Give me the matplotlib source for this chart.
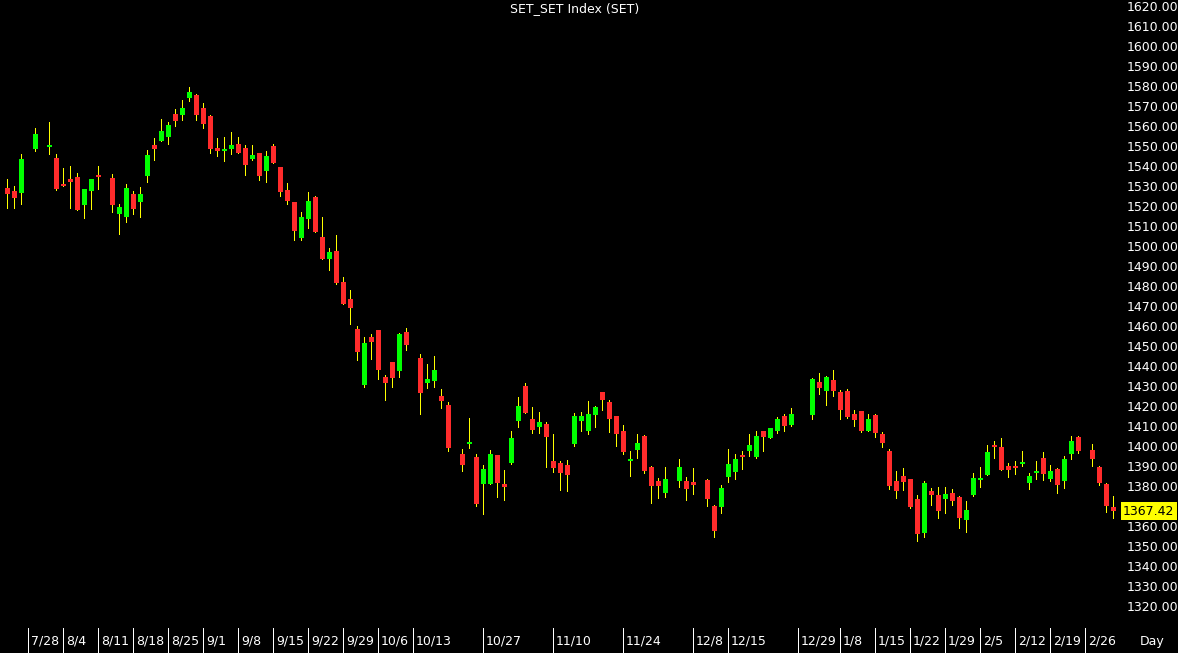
import matplotlib
matplotlib.use('Agg')
import matplotlib.pyplot as plt
import matplotlib.transforms as mtransforms
import numpy as np

# ---- data (one entry per day slot; None = empty slot) ----
opens = [1529.2, 1527.5, 1526.7, None, 1548.5, None, 1549.7, 1543.8, 1531.0, 1533.3,
         1534.5, 1520.5, 1527.5, 1535.7, None, 1534.2, 1516.2, 1514.7, 1525.8, 1522.0,
         1535.0, 1550.3, 1552.7, 1554.3, 1566.0, 1565.7, 1574.2, 1575.5, 1569.2, 1564.8,
         1548.8, 1547.5, 1548.5, 1551.2, 1549.0, 1543.7, 1546.5, 1537.5, 1550.2, 1539.5,
         1527.8, 1521.8, 1504.0, 1513.7, 1524.5, 1504.7, 1493.7, 1497.7, 1482.0, 1473.5,
         1458.5, 1430.3, 1454.5, 1458.0, 1434.7, 1442.0, 1437.7, 1457.0, None, 1444.0,
         1431.5, 1432.5, 1425.2, 1420.3, None, 1396.0, 1400.8, 1394.7, 1381.2, 1381.2,
         1395.7, 1381.0, 1391.7, 1412.5, 1430.2, 1413.5, 1409.7, 1411.0, 1392.7, 1391.5,
         1390.3, 1401.2, 1412.7, 1407.7, 1415.3, 1427.0, 1422.0, 1415.0, 1407.5, 1392.7,
         1398.2, 1405.0, 1389.3, 1382.3, 1376.3, None, 1382.7, 1382.3, 1381.8, None,
         1383.0, 1370.0, 1369.7, 1384.3, 1387.0, 1395.3, 1397.5, 1394.3, 1407.5, 1404.2,
         1407.7, 1415.2, 1410.3, None, None, 1415.5, 1432.0, 1427.7, 1433.0, 1427.0,
         1427.5, 1416.0, 1417.5, 1407.7, 1415.7, 1406.0, 1397.7, 1382.3, 1385.0, 1383.5,
         1373.7, 1356.5, 1377.5, 1375.7, 1373.3, 1376.3, 1374.3, 1363.2, 1375.5, 1382.8,
         1385.5, 1400.5, 1399.5, 1390.0, 1389.7, 1391.2, 1381.7, 1386.7, 1394.2, 1383.5,
         1388.5, 1382.5, 1396.0, 1404.3, None, 1397.8, 1389.3, 1380.8, 1369.5]
highs = [1533.5, 1530.0, 1546.0, None, 1559.2, None, 1562.0, 1546.0, 1539.0, 1540.0,
         1536.5, 1528.5, 1533.5, 1540.0, None, 1535.8, 1521.2, 1531.0, 1527.5, 1529.5,
         1548.2, 1554.0, 1563.5, 1562.0, 1568.5, 1573.0, 1579.7, 1576.0, 1571.7, 1565.5,
         1553.8, 1554.7, 1556.8, 1554.3, 1550.3, 1550.5, 1546.5, 1547.7, 1550.8, 1539.5,
         1531.5, 1521.8, 1517.2, 1527.0, 1525.0, 1514.7, 1499.0, 1505.5, 1484.5, 1477.8,
         1459.8, 1454.7, 1456.2, 1458.0, 1435.5, 1442.0, 1456.7, 1459.0, None, 1446.2,
         1440.8, 1445.2, 1428.5, 1422.2, None, 1398.5, 1413.8, 1395.8, 1390.5, 1398.0,
         1395.7, 1388.0, 1407.7, 1424.5, 1431.3, 1419.7, 1416.8, 1411.8, 1405.8, 1392.3,
         1393.0, 1416.7, 1417.0, 1422.5, 1420.0, 1427.0, 1423.0, 1415.0, 1410.5, 1397.7,
         1406.0, 1405.5, 1390.0, 1384.0, 1389.3, None, 1393.3, 1384.3, 1389.2, None,
         1383.3, 1370.5, 1380.5, 1398.5, 1395.8, 1397.5, 1406.0, 1407.7, 1407.5, 1409.2,
         1414.3, 1416.0, 1418.8, None, None, 1434.0, 1436.3, 1435.2, 1438.0, 1427.8,
         1428.3, 1418.0, 1417.5, 1416.2, 1416.2, 1406.8, 1398.3, 1387.5, 1389.2, 1383.5,
         1375.5, 1382.7, 1378.8, 1379.7, 1379.3, 1378.3, 1375.0, 1372.7, 1386.3, 1389.5,
         1400.5, 1402.5, 1403.8, 1391.7, 1392.5, 1397.7, 1386.7, 1392.5, 1397.0, 1390.7,
         1389.0, 1395.0, 1405.2, 1404.8, None, 1401.0, 1390.0, 1381.3, 1375.0]
lows = [1519.2, 1519.2, 1520.8, None, 1547.5, None, 1546.0, 1528.2, 1530.0, 1519.2,
        1517.8, 1514.2, 1518.5, 1528.5, None, 1517.2, 1505.8, 1512.0, 1516.0, 1514.5,
        1532.2, 1543.2, 1552.5, 1551.0, 1560.2, 1563.0, 1572.5, 1562.8, 1559.2, 1546.7,
        1545.2, 1542.5, 1546.2, 1546.5, 1535.7, 1543.0, 1533.0, 1532.2, 1541.3, 1525.2,
        1521.0, 1503.0, 1503.0, 1509.2, 1506.8, 1493.3, 1488.0, 1481.2, 1470.8, 1461.2,
        1442.8, 1429.7, 1443.3, 1433.7, 1423.0, 1429.7, 1434.3, 1448.2, None, 1416.0,
        1429.2, 1429.7, 1419.2, 1397.7, None, 1387.5, 1399.2, 1370.2, 1366.2, 1381.0,
        1374.3, 1373.0, 1391.2, 1409.7, 1416.5, 1406.7, 1406.7, 1389.3, 1387.2, 1378.0,
        1377.7, 1400.2, 1407.7, 1406.2, 1409.5, 1418.2, 1407.2, 1400.2, 1395.8, 1385.2,
        1393.8, 1386.7, 1371.7, 1374.0, 1374.5, None, 1379.5, 1373.2, 1376.2, None,
        1369.8, 1354.7, 1366.7, 1381.8, 1383.7, 1388.7, 1395.2, 1394.0, 1397.7, 1404.0,
        1406.3, 1407.5, 1410.1, None, None, 1413.5, 1426.2, 1420.7, 1425.2, 1413.7,
        1414.2, 1410.2, 1407.0, 1407.5, 1404.7, 1399.7, 1378.7, 1374.2, 1378.0, 1369.2,
        1352.5, 1354.7, 1370.5, 1364.2, 1366.7, 1370.5, 1359.2, 1357.2, 1375.0, 1379.7,
        1385.3, 1393.8, 1388.0, 1384.7, 1386.0, 1390.2, 1378.5, 1383.5, 1383.0, 1382.5,
        1376.5, 1378.8, 1393.3, 1396.7, None, 1390.0, 1380.7, 1366.8, 1364.2]
closes = [1526.0, 1524.2, 1543.3, None, 1556.0, None, 1550.3, 1528.5, 1530.2, 1532.2,
          1518.0, 1528.5, 1533.5, 1534.7, None, 1520.3, 1519.5, 1528.8, 1518.7, 1526.0,
          1545.7, 1548.7, 1557.5, 1560.3, 1562.7, 1569.0, 1576.8, 1565.7, 1561.0, 1548.5,
          1547.7, 1548.7, 1550.5, 1546.7, 1540.7, 1545.5, 1535.0, 1545.2, 1541.5, 1527.2,
          1522.5, 1507.5, 1514.3, 1522.7, 1507.0, 1493.5, 1497.2, 1481.7, 1471.0, 1469.0,
          1447.0, 1451.3, 1452.2, 1438.0, 1431.3, 1434.2, 1456.2, 1450.3, None, 1426.7,
          1433.5, 1438.0, 1422.7, 1399.0, None, 1390.5, 1401.8, 1370.8, 1388.3, 1396.0,
          1381.5, 1379.7, 1404.0, 1419.8, 1416.7, 1408.0, 1411.8, 1404.7, 1389.2, 1386.7,
          1385.5, 1415.2, 1415.2, 1415.8, 1419.5, 1423.2, 1413.7, 1406.2, 1397.2, 1393.5,
          1401.5, 1387.3, 1379.8, 1380.0, 1383.5, None, 1389.5, 1378.3, 1380.5, None,
          1373.5, 1357.5, 1379.0, 1391.0, 1393.5, 1394.5, 1400.5, 1405.0, 1404.7, 1408.8,
          1413.5, 1410.2, 1416.0, None, None, 1433.5, 1429.2, 1434.7, 1427.7, 1418.2,
          1414.5, 1413.2, 1407.7, 1413.5, 1406.7, 1401.5, 1380.2, 1377.7, 1382.2, 1369.5,
          1356.2, 1381.3, 1375.7, 1367.7, 1376.2, 1372.7, 1364.2, 1368.0, 1384.2, 1384.0,
          1397.0, 1399.7, 1388.2, 1388.2, 1389.0, 1392.0, 1385.2, 1387.5, 1385.8, 1387.5,
          1380.7, 1393.7, 1402.7, 1397.5, None, 1393.5, 1381.7, 1370.2, 1367.42]

tick_slots = [3, 8, 13, 18, 23, 28, 33, 38, 43, 48, 53, 58, 68, 78, 88, 98, 103,
              113, 119, 124, 129, 134, 139, 144, 149, 154]
tick_labels = ['7/28', '8/4', '8/11', '8/18', '8/25', '9/1', '9/8', '9/15', '9/22',
               '9/29', '10/6', '10/13', '10/27', '11/10', '11/24', '12/8', '12/15',
               '12/29', '1/8', '1/15', '1/22', '1/29', '2/5', '2/12', '2/19', '2/26']
y_ticks = list(range(1320, 1630, 10))
title = 'SET_SET Index (SET)'
last_price = closes[-1]

# ---- figure ----
W, H = 1178, 653
fig = plt.figure(figsize=(W / 100, H / 100), dpi=100, facecolor='black')
ax_left, ax_right, ax_top, ax_bottom = 0, 1118, 0, 627
ax = fig.add_axes([ax_left / W, (H - ax_bottom) / H, (ax_right - ax_left) / W,
                   (ax_bottom - ax_top) / H])
ax.set_facecolor('black')
for s in ax.spines.values():
    s.set_visible(False)

RED = '#FF2B2B'
GREEN = '#00FF00'
WICK = '#FFFF00'

idx = np.array([i for i in range(len(opens)) if opens[i] is not None])
o = np.array([opens[i] for i in idx])
h = np.array([highs[i] for i in idx])
l = np.array([lows[i] for i in idx])
c = np.array([closes[i] for i in idx])
up = c >= o

ax.vlines(idx, l, h, colors=WICK, linewidth=0.72, antialiased=False, zorder=2)
body_h = np.abs(c - o)
min_h = 1.0
mid = (o + c) / 2
bh = np.maximum(body_h, min_h)
bottom = np.where(body_h < min_h, mid - min_h / 2, np.minimum(o, c))
ax.bar(idx, bh, width=5 / 7, bottom=bottom,
       color=np.where(up, GREEN, RED), linewidth=0, antialiased=False, zorder=3)

# scales: slot i -> pixel 7.3 + 7 i ; price p -> pixel 6 + (1620 - p) * 2
ax.set_xlim((ax_left - 7.3) / 7, (ax_right - 7.3) / 7)
ax.set_ylim(1620 - (ax_bottom - 6) / 2, 1620 + 6 / 2)

# y axis on right
ax.yaxis.tick_right()
ax.set_yticks(y_ticks)
ax.set_yticklabels([f'{v:.2f}' for v in y_ticks])
ax.tick_params(axis='y', length=0, pad=6.5, colors='white', labelsize=9)
ax.tick_params(axis='x', length=0, labelbottom=False)
ax.set_xticks([])

# x axis: separators and labels below the plot
trans_x = mtransforms.blended_transform_factory(ax.transData, fig.transFigure)
y_line_top = (H - 628) / H
for s, lab in zip(tick_slots, tick_labels):
    ax.plot([s - 0.1, s - 0.1], [0, y_line_top], transform=trans_x, color='white',
            linewidth=0.72, clip_on=False, antialiased=False)
    t = mtransforms.offset_copy(trans_x, fig=fig, x=3.5, y=0, units='dots')
    ax.text(s - 0.1, (H - 641) / H, lab, transform=t, color='white', fontsize=9,
            ha='left', va='center')
fig.text(1140 / W, (H - 641) / H, 'Day', color='white', fontsize=9,
         ha='left', va='center')

# last price marker
trans_y = mtransforms.blended_transform_factory(fig.transFigure, ax.transData)
ax.text(1123 / W, last_price, f'{last_price:.2f}', transform=trans_y, color='black',
        fontsize=9, ha='left', va='center', zorder=5,
        bbox=dict(boxstyle='square,pad=0.2', facecolor='#FFFF00', edgecolor='none'))

fig.text(574.5 / W, (H - 9) / H, title, color='white', fontsize=9,
         ha='center', va='center')

fig.savefig('out.png', dpi=100, facecolor='black')
